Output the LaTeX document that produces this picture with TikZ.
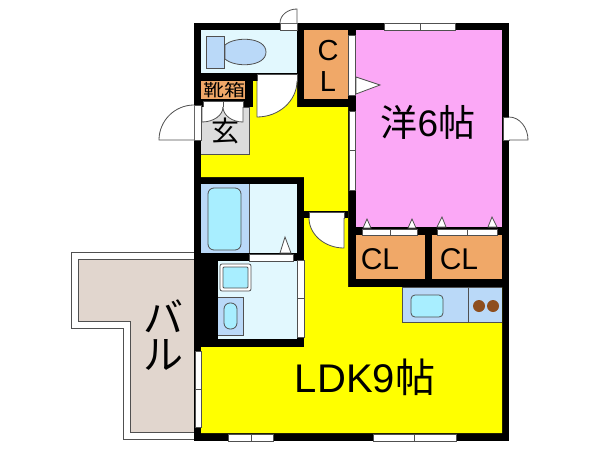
\documentclass[tikz,border=0pt]{standalone}
\usepackage{fontspec}
\usetikzlibrary{calc}
\setmainfont{Liberation Sans}
\newfontfamily\cjk{Noto Sans CJK JP}
\definecolor{ldkColor}{HTML}{FFFF00}
\definecolor{roomColor}{HTML}{FBA8F6}
\definecolor{closetColor}{HTML}{F0A868}
\definecolor{wetColor}{HTML}{E2F8FE}
\definecolor{fixtureColor}{HTML}{BAD9F8}
\definecolor{waterColor}{HTML}{A8EEFF}
\definecolor{entryColor}{HTML}{DCDCDC}
\definecolor{balconyColor}{HTML}{E1D6CE}
\definecolor{burnerColor}{HTML}{8E4E1E}
\definecolor{lineColor}{HTML}{505050}
\newcommand\labelSize[1]{\fontsize{#1}{#1}\selectfont}
% door leaf: hinge, end of leaf, end of swing
\newcommand\doorSwing[3]{
    \draw[fixture, fill=white] (#1) -- (#2) .. controls ($(#2)+.55*(#3)-.55*(#1)$) and ($(#3)+.55*(#2)-.55*(#1)$) .. (#3);
}
\tikzset{
    fixture/.style={draw=lineColor, line width=.8pt},
    opening/.style={draw=lineColor, fill=white, line width=.7pt},
    roomlabel/.style={inner sep=0pt, text=black, anchor=center},
}
\begin{document}
\begin{tikzpicture}[x=1pt, y=-1pt]
    \useasboundingbox (0,0) rectangle (600,450);

    % balcony
    \draw[fixture] (194,252) -- (71,252) -- (71,328) -- (123,328) -- (123,439) -- (194,439);
    \draw[fixture, fill=balconyColor] (194,259) -- (78,259) -- (78,321) -- (130,321) -- (130,432) -- (194,432);

    % walls, then the rooms on top
    \fill[black] (194,23) rectangle (509,441);
    \fill[ldkColor] (201,107) -- (253,107) -- (253,81) -- (297,81) -- (297,107) -- (348,107) -- (348,287) -- (502,287) -- (502,433) -- (201,433) -- (201,347) -- (304,347) -- (304,177) -- (201,177) -- cycle;
    \fill[roomColor] (356,30) rectangle (502,227);
    \fill[closetColor] (304,30) rectangle (348,99);
    \fill[closetColor] (356,235) rectangle (425,279);
    \fill[closetColor] (432,235) rectangle (502,279);
    \fill[closetColor] (201,81) rectangle (245,99);
    \fill[wetColor] (201,30) rectangle (297,73);
    \fill[wetColor] (201,184) rectangle (297,253);
    \fill[wetColor] (218,261) rectangle (297,339);
    \draw[fixture, fill=entryColor] (201,107) -- (249,107) -- (249,154) -- (201,154);
    \fill[black] (304,211) rectangle (348,218);

    % wall openings: sliding doors and windows
    \foreach \xa/\ya/\xb/\yb in {280/23/297/30, 194/105/201/140, 257/74/297/81, 203/101/243/107, 503/117/509/140, 309/212/344/218, 348/35/355/95, 249/254/293/261}{
        \draw[opening] (\xa,\ya) rectangle (\xb,\yb);
    }
    \foreach \xa/\xm/\xb/\ya/\yb in {384/420/455/23/30, 228/251/273/434/441, 373/414/456/434/441, 362/390/417/229/235, 437/467/497/229/235}{
        \draw[opening] (\xa,\ya) rectangle (\xm,\yb);
        \draw[opening] (\xm,\ya) rectangle (\xb,\yb);
    }
    \foreach \xa/\xb/\ya/\ym/\yb in {349/355/111/150/190, 297/304/260/298/337, 195/201/351/389/427}{
        \draw[opening] (\xa,\ya) rectangle (\xb,\ym);
        \draw[opening] (\xa,\ym) rectangle (\xb,\yb);
    }

    % doors
    \doorSwing{297,23}{297,9}{280,23}
    \doorSwing{194,140}{159,140}{194,105}
    \doorSwing{257,81}{257,117}{297,81}
    \doorSwing{509,140}{528,140}{509,117}
    \doorSwing{344,218}{344,248}{309,218}
    \doorSwing{202,107}{202,122}{223,107}
    \doorSwing{243,107}{243,122}{223,107}
    \draw[fixture] (223,101) -- (223,107);

    % closet door marks
    \foreach \xa/\xm/\xb/\ya/\yb in {363/367/371/228/219, 408/412/416/228/219, 437/442/446/227/217, 488/492/497/227/217, 280/285/291/253/237}{
        \draw[fixture, fill=white] (\xa,\ya) -- (\xm,\yb) -- (\xb,\ya) -- cycle;
    }
    \draw[fixture, fill=white] (356,77) -- (380,85) -- (356,94) -- cycle;

    % toilet
    \draw[fixture, fill=fixtureColor] (206,36) rectangle (224,68);
    \draw[fixture, fill=fixtureColor] (225,45) .. controls (235,36) and (266,37) .. (266,52) .. controls (266,67) and (235,68) .. (225,59) -- cycle;

    % bath and wash room
    \fill[fixtureColor] (201,184) rectangle (249,253);
    \draw[fixture] (249,184) -- (249,253);
    \draw[fixture, fill=waterColor, rounded corners=6pt] (208,188) rectangle (241,250);
    \draw[fixture, fill=white, rounded corners=2pt] (220,264) rectangle (251,291);
    \draw[fixture, fill=waterColor, rounded corners=1pt] (223,267) rectangle (248,288);
    \draw[fixture, fill=fixtureColor] (218,297) -- (243,297) -- (243,335) -- (218,335);
    \draw[fixture, fill=waterColor, rounded corners=6pt] (224,303) rectangle (237,329);

    % kitchen
    \draw[fixture, fill=fixtureColor] (502,287) -- (402,287) -- (402,322) -- (502,322);
    \draw[fixture] (468,287) -- (468,322);
    \draw[fixture, fill=waterColor, rounded corners=4pt] (411,295) rectangle (443,317);
    \foreach \xa in {479,493}{
        \fill[burnerColor] (\xa,306) circle (6);
    }

    % labels
    \node[roomlabel] (room_label) at (428,122) {\labelSize{37}\cjk 洋{\normalfont 6}帖};
    \node[roomlabel] (ldk_label) at (365,377) {\labelSize{40}LDK9{\cjk 帖}};
    \node[roomlabel] (closet_c) at (328,51) {\labelSize{29}C};
    \node[roomlabel] (closet_l) at (328,82) {\labelSize{29}L};
    \node[roomlabel] (closet_left) at (380,259) {\labelSize{30}CL};
    \node[roomlabel] (closet_right) at (459,259) {\labelSize{30}CL};
    \node[roomlabel, yscale=.8, transform shape] (shoe_label) at (224,90) {\labelSize{21}\cjk 靴箱};
    \node[roomlabel] (entry_label) at (225,131) {\labelSize{28}\cjk 玄};
    \node[roomlabel] (balcony_ba) at (163,316) {\labelSize{40}\cjk バ};
    \node[roomlabel] (balcony_ru) at (163,355) {\labelSize{40}\cjk ル};
\end{tikzpicture}
\end{document}
